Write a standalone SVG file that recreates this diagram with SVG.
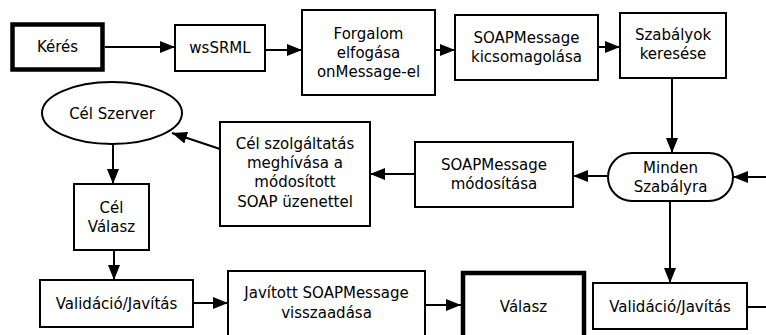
<svg xmlns="http://www.w3.org/2000/svg" width="766" height="335" viewBox="0 0 766 335">
  <style>
    .box { fill: #fff; stroke: #000; stroke-width: 2; }
    .thick { fill: #fff; stroke: #000; stroke-width: 4.5; }
    .lbl { font-family: "DejaVu Sans", "Liberation Sans", sans-serif; font-size: 15px; fill: #000; text-anchor: middle; }
    .edge { fill: none; stroke: #000; stroke-width: 2; marker-end: url(#arrow); }
    .plain { fill: none; stroke: #000; stroke-width: 2; }
  </style>
  <defs>
    <marker id="arrow" markerWidth="15" markerHeight="12" refX="15" refY="6" orient="auto" markerUnits="userSpaceOnUse">
      <path d="M0,0 L15,6 L0,12 Z" fill="#000"/>
    </marker>
  </defs>
  <rect width="766" height="335" fill="#fff"/>

  <g id="connectors">
    <line class="edge" x1="105" y1="47" x2="175" y2="47"/>
    <line class="edge" x1="265" y1="50" x2="302" y2="50"/>
    <line class="edge" x1="435" y1="50" x2="455" y2="50"/>
    <line class="edge" x1="598" y1="47" x2="620" y2="47"/>
    <line class="edge" x1="672" y1="78" x2="672" y2="153"/>
    <line class="edge" x1="766" y1="177" x2="733" y2="177"/>
    <line class="edge" x1="608" y1="176" x2="573" y2="176"/>
    <line class="edge" x1="415" y1="174" x2="370" y2="174"/>
    <line class="edge" x1="220" y1="149" x2="172" y2="133"/>
    <line class="edge" x1="113" y1="145" x2="113" y2="184"/>
    <line class="edge" x1="114" y1="250" x2="114" y2="280"/>
    <line class="edge" x1="193" y1="303" x2="228" y2="303"/>
    <line class="edge" x1="425" y1="305" x2="461" y2="305"/>
    <line class="edge" x1="670" y1="201" x2="670" y2="283"/>
    <line class="plain" x1="747" y1="307" x2="766" y2="307"/>
  </g>

  <g id="keres">
    <rect class="thick" x="12.5" y="24.5" width="90" height="45"/>
    <text class="lbl" x="57.5" y="52">Kérés</text>
  </g>
  <g id="wssrml">
    <rect class="box" x="175" y="25" width="90" height="46"/>
    <text class="lbl" x="220" y="53">wsSRML</text>
  </g>
  <g id="forgalom">
    <rect class="box" x="302" y="10" width="133" height="85"/>
    <text class="lbl" x="368.5" y="39">Forgalom</text>
    <text class="lbl" x="368.5" y="58">elfogása</text>
    <text class="lbl" x="368.5" y="77">onMessage-el</text>
  </g>
  <g id="kicsomagolas">
    <rect class="box" x="455" y="15" width="143" height="65"/>
    <text class="lbl" x="526.5" y="43">SOAPMessage</text>
    <text class="lbl" x="526.5" y="62">kicsomagolása</text>
  </g>
  <g id="szabalyok">
    <rect class="box" x="620" y="13" width="106" height="65"/>
    <text class="lbl" x="673" y="40">Szabályok</text>
    <text class="lbl" x="673" y="59">keresése</text>
  </g>
  <g id="minden">
    <rect class="box" x="608" y="153" width="125" height="48" rx="24" ry="24"/>
    <text class="lbl" x="670.5" y="173">Minden</text>
    <text class="lbl" x="670.5" y="192">Szabályra</text>
  </g>
  <g id="modositas">
    <rect class="box" x="415" y="142" width="158" height="65"/>
    <text class="lbl" x="494" y="170">SOAPMessage</text>
    <text class="lbl" x="494" y="189">módosítása</text>
  </g>
  <g id="celszolgaltatas">
    <rect class="box" x="220" y="122" width="150" height="104"/>
    <text class="lbl" x="295" y="149">Cél szolgáltatás</text>
    <text class="lbl" x="295" y="168">meghívása a</text>
    <text class="lbl" x="295" y="187">módosított</text>
    <text class="lbl" x="295" y="207">SOAP üzenettel</text>
  </g>
  <g id="celszerver">
    <ellipse class="box" cx="112" cy="113" rx="70" ry="31"/>
    <text class="lbl" x="112" y="119">Cél Szerver</text>
  </g>
  <g id="celvalasz">
    <rect class="box" x="74" y="184" width="75" height="66"/>
    <text class="lbl" x="111.5" y="213">Cél</text>
    <text class="lbl" x="111.5" y="232">Válasz</text>
  </g>
  <g id="validacio1">
    <rect class="box" x="40" y="280" width="153" height="47"/>
    <text class="lbl" x="116.5" y="309">Validáció/Javítás</text>
  </g>
  <g id="javitott">
    <rect class="box" x="228" y="271" width="197" height="80"/>
    <text class="lbl" x="326.5" y="298">Javított SOAPMessage</text>
    <text class="lbl" x="326.5" y="318">visszaadása</text>
  </g>
  <g id="valasz">
    <rect class="thick" x="463" y="273" width="121" height="80"/>
    <text class="lbl" x="523.5" y="312">Válasz</text>
  </g>
  <g id="validacio2">
    <rect class="box" x="593" y="283" width="154" height="46"/>
    <text class="lbl" x="670" y="312">Validáció/Javítás</text>
  </g>
</svg>
